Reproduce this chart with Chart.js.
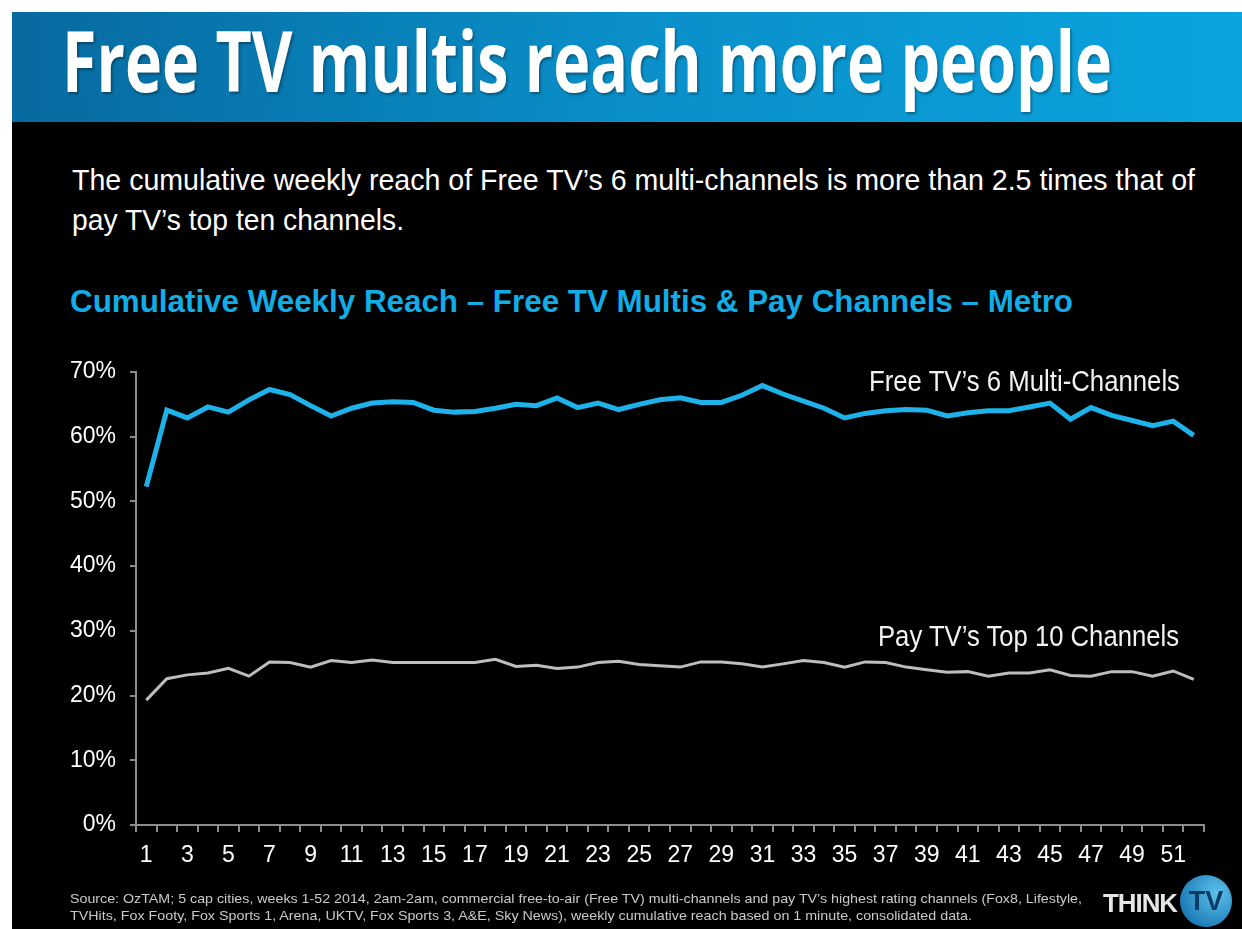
<!DOCTYPE html>
<html>
<head>
<meta charset="utf-8">
<script src="https://cdn.jsdelivr.net/npm/chart.js@4.4.1/dist/chart.umd.min.js"></script>
<style>
  body { margin: 0; width: 1242px; height: 929px; background: #fff; position: relative; overflow: hidden; font-family: "Liberation Sans", Arial, sans-serif; }
  #slide { position: absolute; left: 12px; top: 12px; width: 1230px; height: 917px; background: #000; }
  #header { position: absolute; left: 12px; top: 12px; width: 1230px; height: 110px; background: linear-gradient(90deg, #076a9f 0%, #0a8fc9 50%, #0aa4df 100%); }
  .t { position: absolute; white-space: nowrap; transform-origin: 0 0; line-height: 1; }
  #title { font-family: "Open Sans", sans-serif; font-weight: 700; font-size: 85px; color: #fff; left: 62px; top: 17px; text-shadow: 2px 2px 3px rgba(0,0,0,0.35); }
  .sub { font-size: 30px; color: #fff; left: 72px; }
  #ctitle { font-weight: 700; font-size: 31px; color: #12ace6; left: 70px; top: 286px; }
  .lbl { font-family: "Liberation Sans Narrow", "Liberation Sans", Arial, sans-serif; font-size: 29px; color: #f2f2f2; }
  .foot { font-family: "Liberation Sans Narrow", "Liberation Sans", Arial, sans-serif; font-size: 13px; color: #c9c9c9; left: 70px; }
  #think { font-family: "Liberation Sans", Arial, sans-serif; font-weight: 700; font-size: 26px; color: #e6e6e6; left: 1103px; top: 890px; letter-spacing: -1px; }
  #tv { position: absolute; left: 1180px; top: 875px; width: 52px; height: 52px; border-radius: 50%; background: radial-gradient(circle at 70% 35%, #5cc0ea, #1877b4 80%); color: #0b3a63; font: 700 27px "Liberation Sans", Arial, sans-serif; text-align: center; line-height: 52px; }
  #chart { position: absolute; left: 12px; top: 340px; }
</style>
</head>
<body>
<div id="slide"></div>
<div id="header"></div>
<div class="t" id="title" data-w="1050">Free TV multis reach more people</div>
<div class="t sub" style="top:165px" data-w="1123">The cumulative weekly reach of Free TV’s 6 multi-channels is more than 2.5 times that of</div>
<div class="t sub" style="top:205px" data-w="332">pay TV’s top ten channels.</div>
<div class="t" id="ctitle" data-w="1003">Cumulative Weekly Reach – Free TV Multis &amp; Pay Channels – Metro</div>
<canvas id="chart" width="1230" height="560"></canvas>
<div class="t lbl" style="left:869px;top:367px" data-w="311">Free TV’s 6 Multi-Channels</div>
<div class="t lbl" style="left:878px;top:622px" data-w="301">Pay TV’s Top 10 Channels</div>
<div class="t foot" style="top:892px" data-w="1012">Source: OzTAM; 5 cap cities, weeks 1-52 2014, 2am-2am, commercial free-to-air (Free TV) multi-channels and pay TV’s highest rating channels (Fox8, Lifestyle,</div>
<div class="t foot" style="top:909px" data-w="902">TVHits, Fox Footy, Fox Sports 1, Arena, UKTV, Fox Sports 3, A&amp;E, Sky News), weekly cumulative reach based on 1 minute, consolidated data.</div>
<div class="t" id="think" data-w="74">THINK</div>
<div id="tv">TV</div>
<script>
// weeks 1-52, 2014
const weeks = Array.from({ length: 52 }, (_, i) => String(i + 1));

// Free TV's 6 multi-channels (% weekly cumulative reach)
const freeTv = [
  52.3, 64.1, 62.9, 64.6, 63.8, 65.7, 67.3, 66.5, 64.8, 63.2,
  64.4, 65.2, 65.4, 65.3, 64.1, 63.8, 63.9, 64.4, 65.0, 64.8,
  66.0, 64.5, 65.2, 64.2, 65.0, 65.7, 66.0, 65.3, 65.3, 66.4,
  67.9, 66.6, 65.5, 64.4, 62.9, 63.6, 64.0, 64.2, 64.1, 63.2,
  63.7, 64.0, 64.0, 64.6, 65.2, 62.7, 64.5, 63.3, 62.5, 61.7,
  62.4, 60.2
];

// Pay TV's top 10 channels
const payTv = [
  19.3, 22.6, 23.2, 23.5, 24.2, 23.0, 25.2, 25.1, 24.4, 25.4,
  25.1, 25.5, 25.1, 25.1, 25.1, 25.1, 25.1, 25.6, 24.5, 24.7,
  24.2, 24.4, 25.1, 25.3, 24.8, 24.6, 24.4, 25.2, 25.2, 24.9,
  24.4, 24.9, 25.4, 25.1, 24.4, 25.2, 25.1, 24.4, 24.0, 23.6,
  23.7, 23.0, 23.5, 23.5, 24.0, 23.1, 23.0, 23.7, 23.7, 23.0,
  23.8, 22.5
];

const yTicks = [0, 10, 20, 30, 40, 50, 60, 70];

// squeeze text lines to the width they have on the slide
document.querySelectorAll(".t[data-w]").forEach((el) => {
  const w = el.getBoundingClientRect().width;
  el.style.transform = `scaleX(${+el.dataset.w / w})`;
});

const tickFont = { family: "'Liberation Sans Narrow', 'Liberation Sans', Arial, sans-serif", size: 23 };
const axisGrey = "#8c8c8c";

const myChart = new Chart(document.getElementById("chart"), {
  type: "line",
  data: {
    labels: weeks,
    datasets: [
      {
        label: "Free TV's 6 Multi-Channels",
        data: freeTv,
        borderColor: "#1db3ea",
        borderWidth: 5,
        pointRadius: 0,
        tension: 0,
      },
      {
        label: "Pay TV's Top 10 Channels",
        data: payTv,
        borderColor: "#bdbdbd",
        borderWidth: 3,
        pointRadius: 0,
        tension: 0,
      },
    ],
  },
  options: {
    responsive: false,
    animation: false,
    devicePixelRatio: 1,
    layout: { padding: { top: 32, right: 38, left: 0, bottom: 0 } },
    plugins: { legend: { display: false }, tooltip: { enabled: false } },
    scales: {
      x: {
        offset: true,
        border: { color: axisGrey, width: 2 },
        grid: { offset: true, drawOnChartArea: false, drawTicks: true, tickLength: 7, tickColor: axisGrey, lineWidth: 2 },
        ticks: {
          autoSkip: false,
          maxRotation: 0,
          color: "#fff",
          font: tickFont,
          padding: 10,
          callback: (v, i) => (i % 2 === 0 ? weeks[i] : ""),
        },
        afterFit: (scale) => { scale.height = 75; },
      },
      y: {
        min: 0,
        max: 70,
        afterBuildTicks: (scale) => { scale.ticks = yTicks.map((v) => ({ value: v })); },
        border: { color: axisGrey, width: 2 },
        grid: { drawOnChartArea: false, drawTicks: true, tickLength: 6, tickColor: axisGrey, lineWidth: 2 },
        ticks: { color: "#fff", font: tickFont, padding: 14, callback: (v) => v + "%" },
        afterFit: (scale) => { scale.width = 124; },
      },
    },
  },
});
</script>
</body>
</html>
